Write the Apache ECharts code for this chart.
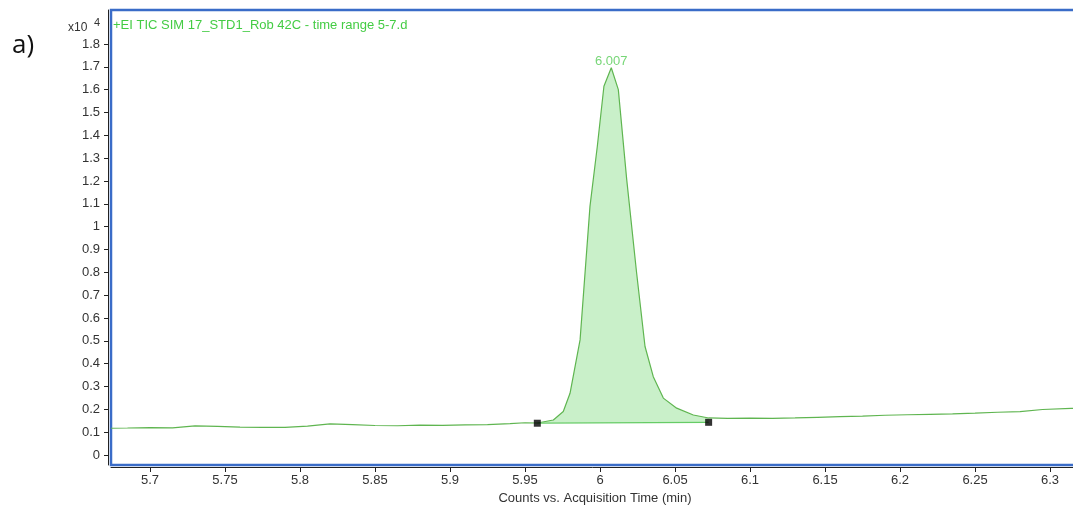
<!DOCTYPE html>
<html>
<head>
<meta charset="utf-8">
<script src="https://cdn.jsdelivr.net/npm/echarts@6/dist/echarts.min.js"></script>
<style>
  html, body { margin: 0; padding: 0; background: #fff; }
  #chart { width: 1073px; height: 506px; }
</style>
</head>
<body>
<div id="chart"></div>
<script>
// === Données (x10^4 counts vs. minutes) ===
const traceTime = [5.674, 5.685, 5.7, 5.715, 5.73, 5.745, 5.76, 5.775, 5.79, 5.805, 5.82, 5.835, 5.85, 5.865, 5.88, 5.895, 5.91, 5.925, 5.94, 5.95, 5.9582,
  5.9689, 5.9755, 5.98, 5.9867, 5.9933, 5.9982, 6.0026, 6.0075, 6.0122, 6.0178, 6.0244, 6.03, 6.0355, 6.0422, 6.0511, 6.0622, 6.0724,
  6.085, 6.1, 6.115, 6.13, 6.145, 6.16, 6.175, 6.19, 6.205, 6.22, 6.235, 6.25, 6.265, 6.28, 6.295, 6.314, 6.3193];
const traceCounts = [0.117, 0.118, 0.120, 0.119, 0.127, 0.125, 0.122, 0.121, 0.121, 0.126, 0.136, 0.133, 0.129, 0.128, 0.131, 0.130, 0.132, 0.133, 0.137, 0.141, 0.140,
  0.153, 0.190, 0.270, 0.504, 1.089, 1.352, 1.615, 1.696, 1.600, 1.206, 0.797, 0.475, 0.343, 0.249, 0.205, 0.175, 0.162,
  0.160, 0.161, 0.160, 0.162, 0.165, 0.168, 0.170, 0.174, 0.176, 0.178, 0.180, 0.183, 0.187, 0.190, 0.199, 0.204, 0.205];
const peakStart = 5.9582;
const peakEnd = 6.0724;
const baselinePts = [[5.9582, 0.139], [6.0724, 0.143]];
const peakLabel = '6.007';
const xTicks = [5.7, 5.75, 5.8, 5.85, 5.9, 5.95, 6, 6.05, 6.1, 6.15, 6.2, 6.25, 6.3];
const yTicks = [0, 0.1, 0.2, 0.3, 0.4, 0.5, 0.6, 0.7, 0.8, 0.9, 1, 1.1, 1.2, 1.3, 1.4, 1.5, 1.6, 1.7, 1.8];

const trace = traceTime.map((t, i) => [t, traceCounts[i]]);
const maxIdx = traceCounts.indexOf(Math.max(...traceCounts));
const peakData = trace.filter(p => p[0] >= peakStart && p[0] <= peakEnd);

const FONT = '"Liberation Sans", Arial, sans-serif';

const chart = echarts.init(document.getElementById('chart'));
chart.setOption({
  animation: false,
  textStyle: { fontFamily: FONT },
  grid: {
    left: 111, right: -6, top: 10, bottom: 41,
    outerBoundsMode: 'none', containLabel: false,
    show: true, borderColor: '#3a6cc8', borderWidth: 2.5, backgroundColor: '#fff'
  },
  title: [
    { text: '+EI TIC SIM 17_STD1_Rob 42C - time range 5-7.d', left: 108, top: 14,
      textStyle: { color: '#44cc44', fontSize: 13, fontWeight: 'normal', fontFamily: FONT } },
    { text: 'a)', left: 7, top: 28,
      textStyle: { color: '#111', fontSize: 26, fontWeight: 'normal', fontFamily: '"Open Sans", sans-serif' } },
    { text: 'x10', left: 63, top: 17,
      textStyle: { color: '#333', fontSize: 12, fontWeight: 'normal', fontFamily: FONT } },
    { text: '4', left: 89, top: 12,
      textStyle: { color: '#333', fontSize: 11, fontWeight: 'normal', fontFamily: FONT } }
  ],
  xAxis: {
    type: 'value', min: 5.674, max: 6.3193, offset: 2,
    name: 'Counts vs. Acquisition Time (min)', nameLocation: 'middle', nameGap: 25,
    nameTextStyle: { color: '#333', fontSize: 13, fontFamily: FONT },
    axisLine: { show: true, onZero: false, lineStyle: { color: '#222', width: 1 } },
    axisTick: { show: true, length: 5, customValues: xTicks, lineStyle: { color: '#222' } },
    axisLabel: { customValues: xTicks, color: '#333', fontSize: 13, margin: 7, formatter: v => String(+v.toFixed(2)) },
    splitLine: { show: false }
  },
  yAxis: {
    type: 'value', min: -0.044, max: 1.949, offset: 3,
    axisLine: { show: true, onZero: false, lineStyle: { color: '#222', width: 1 } },
    axisTick: { show: true, length: 4, customValues: yTicks, lineStyle: { color: '#222' } },
    axisLabel: { customValues: yTicks, color: '#333', fontSize: 13, margin: 8, formatter: v => String(+v.toFixed(1)) },
    splitLine: { show: false }
  },
  series: [
    {
      type: 'line', data: peakData, symbol: 'none', silent: true, z: 2,
      lineStyle: { width: 0 },
      areaStyle: { color: '#c9f0c9', opacity: 1, origin: 0.141 }
    },
    {
      type: 'line', data: trace, symbol: 'none', z: 3,
      lineStyle: { color: '#5fb550', width: 1.2 }
    },
    {
      type: 'line', data: baselinePts, symbol: 'none', z: 3,
      lineStyle: { color: '#66cc66', width: 1.2 }
    },
    {
      type: 'scatter', data: baselinePts, symbol: 'rect', symbolSize: 7, z: 4,
      itemStyle: { color: '#000' }
    },
    {
      type: 'scatter', data: [trace[maxIdx]], symbolSize: 2, z: 5, silent: true,
      itemStyle: { color: 'rgba(0,0,0,0)' },
      label: { show: true, formatter: peakLabel, position: 'top', distance: -1, color: '#55cc55', fontSize: 13, fontFamily: FONT }
    }
  ]
});
</script>
</body>
</html>
